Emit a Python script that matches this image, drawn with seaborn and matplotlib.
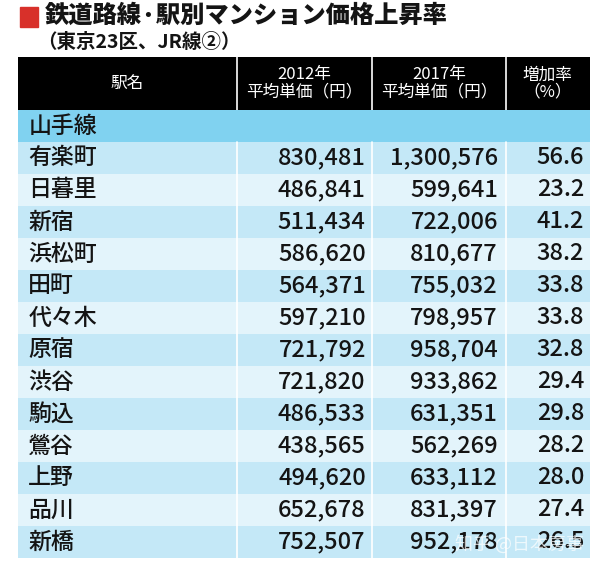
import numpy as np
import pandas as pd
import seaborn as sns
import matplotlib.pyplot as plt
from matplotlib.colors import ListedColormap

# table contents
line_name = "山手線"
stations = ["有楽町", "日暮里", "新宿", "浜松町", "田町", "代々木", "原宿",
            "渋谷", "駒込", "鶯谷", "上野", "品川", "新橋"]
price_2012 = [830481, 486841, 511434, 586620, 564371, 597210, 721792,
              721820, 486533, 438565, 494620, 652678, 752507]
price_2017 = [1300576, 599641, 722006, 810677, 755032, 798957, 958704,
              933862, 631351, 562269, 633112, 831397, 952178]
rate = [56.6, 23.2, 41.2, 38.2, 33.8, 33.8, 32.8, 29.4, 29.8, 28.2, 28.0, 27.4, 26.5]
headers = ["駅名", "2012年\n平均単価（円）", "2017年\n平均単価（円）", "増加率\n（%）"]

df = pd.DataFrame({"station": stations, "p2012": price_2012,
                   "p2017": price_2017, "rate": rate})

sns.set_theme(style="white")
plt.rcParams['font.family'] = ['Noto Sans CJK JP', 'DejaVu Sans']

W, H = 606, 565
fig = plt.figure(figsize=(W / 100, H / 100), dpi=100)

def fig_box(x0, y0, x1, y1):
    return [x0 / W, 1 - y1 / H, (x1 - x0) / W, (y1 - y0) / H]

# column layout as fractions of table width
col_div = [0.383, 0.619, 0.853]
name_x = 0.018
num_right = [0.608, 0.839, 0.990]
head_cx = [0.19, 0.50, 0.736, 0.926]
ink = "#141414"

# title
fig.patches.append(plt.Rectangle((20 / W, 1 - 27 / H), 18 / W, 20 / H,
                                 transform=fig.transFigure, color="#d8302a"))
fig.text(45 / W, 1 - 16 / H, "鉄道路線·駅別マンション価格上昇率", fontsize=17.5,
         fontweight="heavy", va="center", ha="left", color=ink)
fig.text(37 / W, 1 - 42 / H, "（東京23区、JR線②）", fontsize=14,
         fontweight="bold", va="center", ha="left", color=ink)

# header
axh = fig.add_axes(fig_box(18, 57, 590, 110))
axh.set_facecolor("black")
axh.set_xlim(0, 1)
axh.set_ylim(0, 1)
axh.set_xticks([])
axh.set_yticks([])
for s in axh.spines.values():
    s.set_visible(False)
for x in col_div:
    axh.axvline(x, color="white", lw=1.2)
for cx, lab in zip(head_cx, headers):
    axh.text(cx, 0.5, lab, color="white", fontsize=12, ha="center",
             va="center", linespacing=1.0)

# body: section row + station rows, shaded with a heatmap
n = len(df) + 1
shade = np.array([0] + [1 + (i % 2) for i in range(len(df))]).reshape(-1, 1)
cmap = ListedColormap(["#80d2f0", "#c4e8f7", "#e3f4fb"])
axb = fig.add_axes(fig_box(18, 110, 590, 558))
sns.heatmap(shade, ax=axb, cmap=cmap, vmin=-0.5, vmax=2.5, cbar=False,
            xticklabels=False, yticklabels=False, linewidths=0)
axb.set_xlim(0, 1)
for x in col_div:
    axb.axvline(x, ymin=0, ymax=(n - 1) / n, color="white", lw=1.2)

tkw = dict(va="center", color=ink, fontweight="medium")
axb.text(name_x, 0.5, line_name, fontsize=16.5, ha="left", **tkw)
for i, row in df.iterrows():
    y = i + 1.5
    axb.text(name_x, y, row["station"], fontsize=16.5, ha="left", **tkw)
    axb.text(num_right[0], y, f"{row['p2012']:,}", fontsize=17, ha="right", **tkw)
    axb.text(num_right[1], y, f"{row['p2017']:,}", fontsize=17, ha="right", **tkw)
    axb.text(num_right[2], y, f"{row['rate']:.1f}", fontsize=17, ha="right", **tkw)

# watermark
fig.text(455 / W, 1 - 544 / H, "知乎 @日本房事", fontsize=13, color="white",
         alpha=0.7, ha="left", va="center")

fig.savefig("out.png", dpi=100, facecolor="white")
